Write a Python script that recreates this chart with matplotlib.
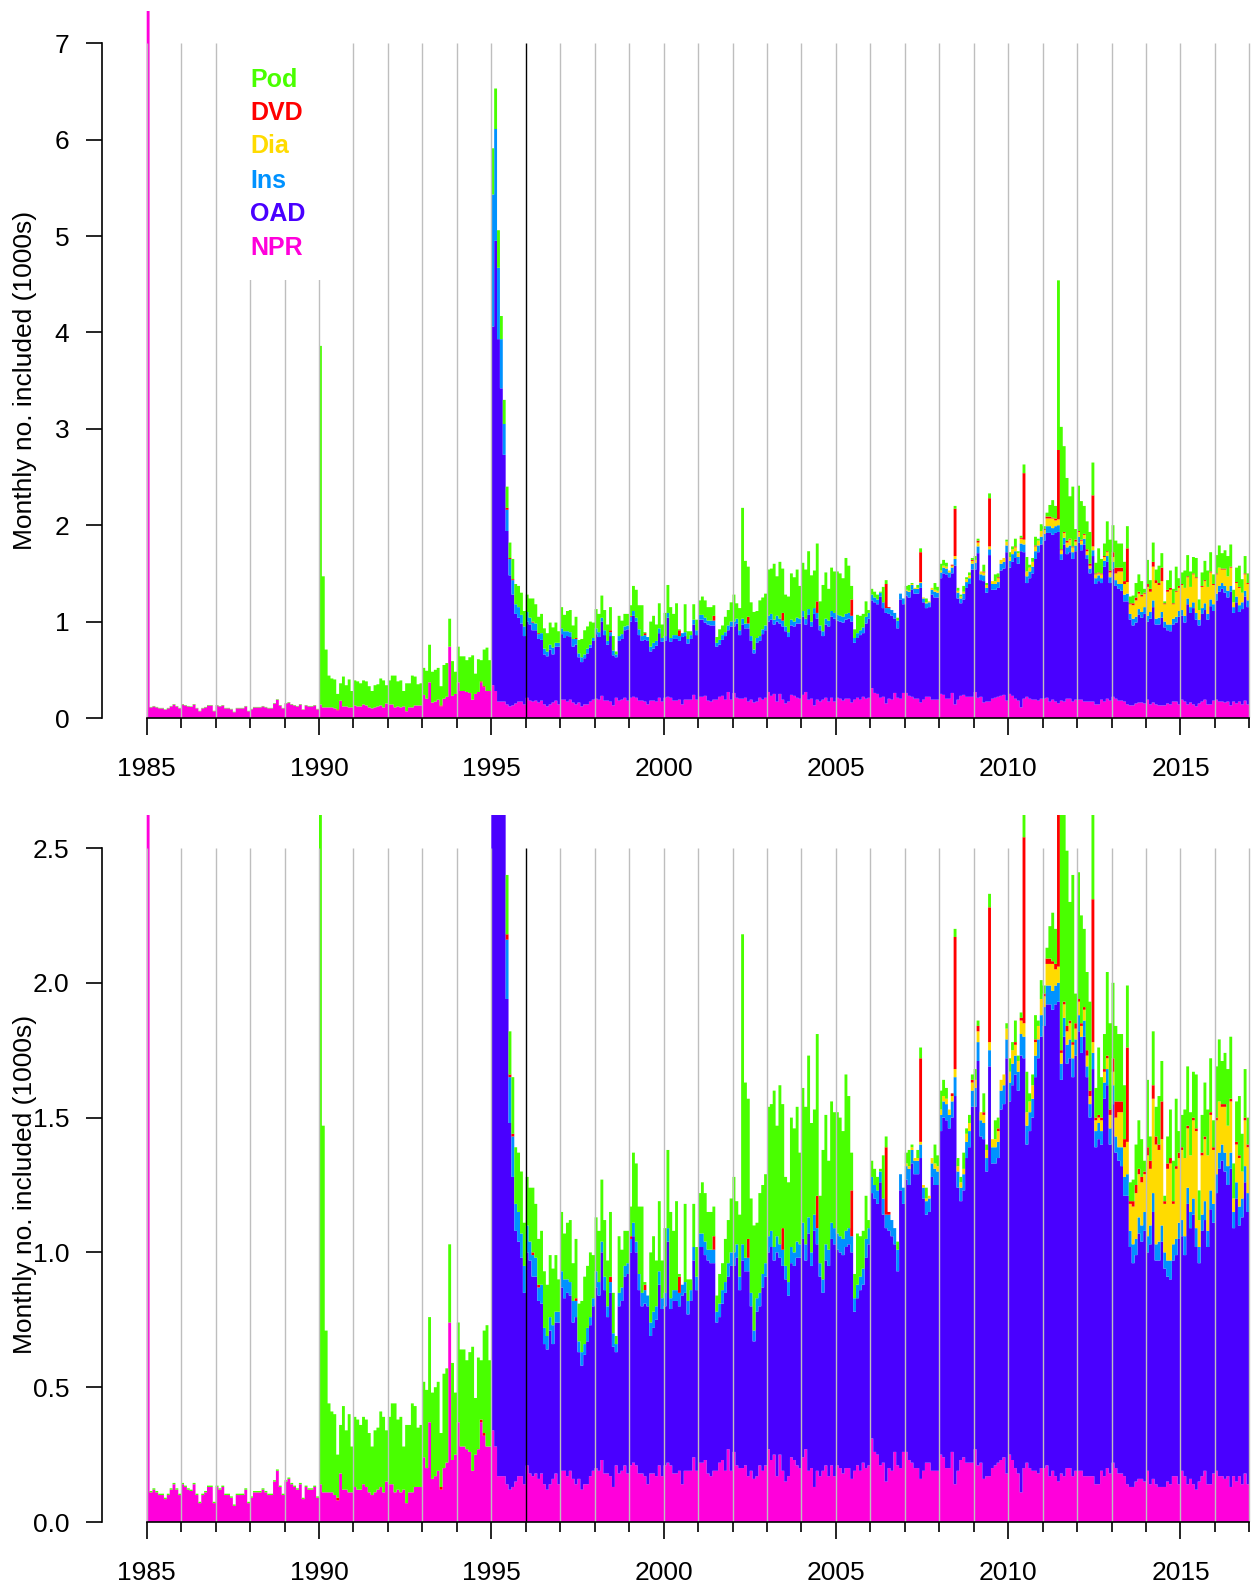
import numpy as np
import matplotlib.pyplot as plt
from matplotlib.patches import Rectangle

plt.rcParams['font.family'] = ['Liberation Sans', 'DejaVu Sans']

# Monthly numbers included (1000s), one row (Jan..Dec) per year 1985-2016
first_year = 1985

npr = [
    [9.0, 0.11, 0.12, 0.11, 0.10, 0.10, 0.085, 0.10, 0.12, 0.14, 0.12, 0.10],
    [0.14, 0.13, 0.12, 0.115, 0.14, 0.10, 0.07, 0.10, 0.11, 0.13, 0.13, 0.07],
    [0.13, 0.12, 0.13, 0.10, 0.10, 0.09, 0.06, 0.10, 0.10, 0.10, 0.12, 0.07],
    [0.09, 0.11, 0.11, 0.11, 0.12, 0.11, 0.10, 0.10, 0.15, 0.19, 0.13, 0.10],
    [0.15, 0.16, 0.14, 0.13, 0.12, 0.14, 0.085, 0.13, 0.12, 0.12, 0.13, 0.09],
    [0.14, 0.11, 0.11, 0.11, 0.11, 0.10, 0.08, 0.18, 0.12, 0.12, 0.11, 0.11],
    [0.13, 0.12, 0.12, 0.14, 0.13, 0.11, 0.10, 0.11, 0.12, 0.13, 0.11, 0.15],
    [0.14, 0.14, 0.11, 0.12, 0.11, 0.12, 0.07, 0.11, 0.11, 0.13, 0.13, 0.13],
    [0.24, 0.20, 0.37, 0.16, 0.17, 0.19, 0.12, 0.20, 0.22, 0.74, 0.23, 0.25],
    [0.37, 0.28, 0.28, 0.27, 0.26, 0.19, 0.25, 0.27, 0.37, 0.32, 0.28, 0.28],
    [0.34, 0.28, 0.17, 0.17, 0.17, 0.14, 0.12, 0.13, 0.15, 0.17, 0.17, 0.14],
    [0.21, 0.18, 0.17, 0.18, 0.16, 0.18, 0.14, 0.12, 0.14, 0.16, 0.18, 0.14],
    [0.19, 0.19, 0.17, 0.19, 0.16, 0.14, 0.16, 0.12, 0.14, 0.14, 0.17, 0.19],
    [0.20, 0.19, 0.23, 0.18, 0.18, 0.17, 0.13, 0.21, 0.18, 0.19, 0.21, 0.18],
    [0.21, 0.22, 0.21, 0.18, 0.18, 0.17, 0.14, 0.18, 0.18, 0.17, 0.21, 0.17],
    [0.21, 0.22, 0.21, 0.18, 0.18, 0.19, 0.14, 0.19, 0.19, 0.19, 0.24, 0.19],
    [0.22, 0.22, 0.23, 0.18, 0.17, 0.19, 0.19, 0.22, 0.23, 0.19, 0.27, 0.19],
    [0.26, 0.21, 0.20, 0.20, 0.21, 0.17, 0.19, 0.16, 0.17, 0.21, 0.19, 0.21],
    [0.27, 0.23, 0.25, 0.17, 0.25, 0.19, 0.15, 0.17, 0.24, 0.23, 0.21, 0.20],
    [0.24, 0.27, 0.19, 0.20, 0.13, 0.19, 0.17, 0.19, 0.21, 0.17, 0.21, 0.17],
    [0.21, 0.20, 0.18, 0.20, 0.20, 0.16, 0.19, 0.21, 0.19, 0.22, 0.20, 0.21],
    [0.31, 0.26, 0.25, 0.21, 0.22, 0.15, 0.20, 0.19, 0.26, 0.21, 0.20, 0.26],
    [0.26, 0.23, 0.22, 0.20, 0.20, 0.16, 0.19, 0.22, 0.22, 0.19, 0.19, 0.19],
    [0.25, 0.24, 0.20, 0.20, 0.26, 0.14, 0.19, 0.23, 0.24, 0.22, 0.22, 0.22],
    [0.27, 0.21, 0.22, 0.16, 0.17, 0.17, 0.20, 0.21, 0.22, 0.23, 0.24, 0.18],
    [0.25, 0.23, 0.20, 0.18, 0.11, 0.20, 0.22, 0.20, 0.19, 0.19, 0.18, 0.20],
    [0.20, 0.21, 0.17, 0.19, 0.17, 0.15, 0.18, 0.17, 0.20, 0.20, 0.17, 0.19],
    [0.19, 0.19, 0.17, 0.17, 0.17, 0.17, 0.14, 0.14, 0.19, 0.17, 0.20, 0.18],
    [0.22, 0.20, 0.18, 0.18, 0.17, 0.14, 0.13, 0.13, 0.15, 0.16, 0.16, 0.15],
    [0.19, 0.14, 0.16, 0.14, 0.13, 0.13, 0.13, 0.15, 0.14, 0.17, 0.17, 0.14],
    [0.19, 0.17, 0.14, 0.16, 0.14, 0.12, 0.15, 0.17, 0.19, 0.14, 0.14, 0.18],
    [0.19, 0.17, 0.17, 0.16, 0.17, 0.13, 0.17, 0.15, 0.17, 0.14, 0.18, 0.14],
]

# level reached by NPR + OAD (OAD starts in 1995)
oad_top = [[0] * 12] * 10 + [
    [4.06, 4.95, 3.93, 3.42, 2.73, 1.94, 1.48, 1.28, 1.08, 1.04, 0.98, 0.85],
    [1.00, 0.97, 0.91, 0.91, 0.82, 0.81, 0.66, 0.64, 0.71, 0.66, 0.74, 0.74],
    [0.87, 0.83, 0.85, 0.84, 0.74, 0.76, 0.63, 0.58, 0.62, 0.67, 0.73, 0.80],
    [0.87, 0.84, 1.00, 0.86, 0.76, 0.85, 0.65, 0.63, 0.80, 0.82, 0.91, 0.92],
    [1.00, 1.06, 1.00, 0.86, 0.80, 0.81, 0.80, 0.69, 0.72, 0.75, 0.88, 0.79],
    [0.80, 1.04, 0.79, 0.82, 0.82, 0.80, 0.84, 0.85, 0.77, 0.82, 0.97, 0.86],
    [1.02, 1.02, 0.99, 0.97, 0.96, 0.96, 0.74, 0.76, 0.81, 0.85, 0.91, 0.95],
    [0.95, 0.98, 0.86, 0.97, 0.93, 0.93, 0.80, 0.67, 0.78, 0.80, 0.87, 0.91],
    [1.00, 1.02, 0.97, 1.00, 0.98, 0.95, 0.90, 0.84, 0.96, 0.95, 0.98, 0.98],
    [1.05, 0.97, 1.07, 0.95, 1.08, 1.03, 0.91, 0.85, 0.97, 0.95, 1.05, 1.03],
    [1.01, 1.00, 0.99, 1.02, 1.03, 1.00, 0.78, 0.83, 0.86, 0.88, 0.98, 1.03],
    [1.22, 1.20, 1.18, 1.26, 1.14, 1.09, 1.08, 1.06, 1.03, 0.93, 1.23, 1.18],
    [1.27, 1.25, 1.33, 1.29, 1.29, 1.35, 1.20, 1.14, 1.15, 1.28, 1.25, 1.25],
    [1.45, 1.50, 1.49, 1.46, 1.50, 1.58, 1.24, 1.19, 1.23, 1.35, 1.39, 1.54],
    [1.54, 1.71, 1.43, 1.42, 1.30, 1.69, 1.33, 1.33, 1.35, 1.53, 1.55, 1.72],
    [1.56, 1.62, 1.66, 1.60, 1.73, 1.72, 1.40, 1.45, 1.50, 1.65, 1.72, 1.80],
    [1.84, 1.92, 1.92, 1.90, 1.92, 1.93, 1.64, 1.80, 1.70, 1.72, 1.65, 1.73],
    [1.82, 1.74, 1.80, 1.65, 1.50, 1.68, 1.39, 1.42, 1.40, 1.57, 1.62, 1.40],
    [1.55, 1.37, 1.34, 1.32, 1.21, 1.21, 1.02, 0.96, 0.99, 1.07, 1.04, 1.08],
    [1.00, 1.03, 1.15, 0.97, 0.97, 1.04, 0.94, 0.91, 0.90, 0.97, 0.99, 1.05],
    [1.06, 0.99, 1.18, 1.09, 1.14, 1.02, 0.96, 1.08, 1.12, 1.02, 1.16, 1.11],
    [1.22, 1.31, 1.34, 1.30, 1.25, 1.31, 1.09, 1.20, 1.10, 1.13, 1.26, 1.15],
]

ins = [[0] * 12] * 10 + [
    [1.37, 1.16, 0.74, 0.51, 0.32, 0.22, 0.17, 0.15, 0.10, 0.11, 0.09, 0.10],
    [0.10, 0.07, 0.08, 0.07, 0.05, 0.07, 0.06, 0.05, 0.05, 0.07, 0.04, 0.04],
    [0.06, 0.07, 0.05, 0.05, 0.08, 0.06, 0.04, 0.05, 0.04, 0.05, 0.03, 0.03],
    [0.06, 0.05, 0.04, 0.05, 0.04, 0.04, 0.05, 0.03, 0.05, 0.05, 0.04, 0.04],
    [0.05, 0.05, 0.04, 0.06, 0.05, 0.05, 0.04, 0.05, 0.06, 0.05, 0.05, 0.04],
    [0.05, 0.05, 0.04, 0.04, 0.04, 0.05, 0.04, 0.04, 0.05, 0.04, 0.05, 0.05],
    [0.05, 0.05, 0.05, 0.04, 0.05, 0.05, 0.04, 0.05, 0.05, 0.04, 0.05, 0.05],
    [0.05, 0.05, 0.05, 0.06, 0.05, 0.05, 0.05, 0.04, 0.05, 0.05, 0.05, 0.05],
    [0.06, 0.06, 0.05, 0.06, 0.05, 0.06, 0.05, 0.05, 0.06, 0.05, 0.06, 0.05],
    [0.06, 0.06, 0.06, 0.05, 0.06, 0.06, 0.05, 0.05, 0.06, 0.06, 0.06, 0.06],
    [0.06, 0.06, 0.06, 0.06, 0.06, 0.06, 0.05, 0.05, 0.05, 0.06, 0.07, 0.06],
    [0.06, 0.05, 0.05, 0.04, 0.06, 0.05, 0.06, 0.06, 0.06, 0.08, 0.06, 0.06],
    [0.05, 0.06, 0.05, 0.05, 0.05, 0.05, 0.04, 0.05, 0.05, 0.05, 0.06, 0.05],
    [0.06, 0.06, 0.06, 0.05, 0.06, 0.07, 0.06, 0.05, 0.06, 0.06, 0.06, 0.06],
    [0.07, 0.07, 0.06, 0.06, 0.05, 0.06, 0.06, 0.06, 0.06, 0.07, 0.07, 0.07],
    [0.07, 0.08, 0.07, 0.07, 0.08, 0.08, 0.07, 0.07, 0.07, 0.08, 0.07, 0.08],
    [0.07, 0.07, 0.07, 0.07, 0.07, 0.07, 0.06, 0.07, 0.07, 0.07, 0.07, 0.06],
    [0.06, 0.06, 0.06, 0.04, 0.05, 0.06, 0.06, 0.06, 0.05, 0.06, 0.06, 0.06],
    [0.07, 0.06, 0.05, 0.07, 0.07, 0.08, 0.06, 0.07, 0.06, 0.06, 0.06, 0.07],
    [0.06, 0.07, 0.07, 0.06, 0.07, 0.06, 0.06, 0.06, 0.07, 0.06, 0.06, 0.06],
    [0.06, 0.07, 0.06, 0.06, 0.06, 0.07, 0.06, 0.06, 0.07, 0.06, 0.07, 0.07],
    [0.07, 0.06, 0.06, 0.07, 0.07, 0.06, 0.06, 0.06, 0.07, 0.07, 0.06, 0.07],
]

dia = [[0] * 12] * 22 + [
    [0.01, 0.01, 0.01, 0.01, 0.01, 0.01, 0.01, 0.01, 0.01, 0.02, 0.02, 0.02],
    [0.02, 0.02, 0.02, 0.02, 0.02, 0.03, 0.02, 0.02, 0.02, 0.03, 0.03, 0.03],
    [0.03, 0.04, 0.03, 0.03, 0.03, 0.03, 0.03, 0.03, 0.04, 0.04, 0.04, 0.04],
    [0.04, 0.05, 0.04, 0.04, 0.05, 0.05, 0.05, 0.04, 0.05, 0.05, 0.05, 0.06],
    [0.04, 0.08, 0.08, 0.10, 0.06, 0.06, 0.04, 0.05, 0.05, 0.06, 0.05, 0.04],
    [0.05, 0.04, 0.04, 0.04, 0.03, 0.04, 0.04, 0.02, 0.04, 0.04, 0.04, 0.05],
    [0.05, 0.07, 0.13, 0.13, 0.11, 0.12, 0.10, 0.14, 0.17, 0.16, 0.16, 0.14],
    [0.30, 0.21, 0.35, 0.37, 0.34, 0.32, 0.18, 0.34, 0.36, 0.15, 0.26, 0.24],
    [0.26, 0.29, 0.22, 0.21, 0.29, 0.36, 0.10, 0.22, 0.23, 0.28, 0.28, 0.20],
    [0.20, 0.19, 0.14, 0.17, 0.15, 0.19, 0.05, 0.14, 0.18, 0.10, 0.17, 0.17],
]

dvd = [[0] * 12] * 5 + [
    [0, 0, 0, 0, 0, 0, 0.01, 0, 0, 0, 0, 0],
    [0, 0, 0, 0, 0, 0, 0, 0, 0, 0, 0, 0],
    [0, 0, 0, 0, 0, 0, 0, 0, 0, 0, 0, 0],
    [0, 0, 0, 0, 0, 0, 0.01, 0, 0, 0, 0, 0],
    [0, 0, 0, 0, 0, 0, 0, 0, 0.01, 0.01, 0, 0],
    [0, 0, 0, 0, 0, 0.02, 0.01, 0.01, 0, 0, 0, 0],
    [0, 0, 0.01, 0, 0.01, 0, 0, 0, 0, 0, 0, 0],
    [0, 0, 0, 0, 0, 0.01, 0, 0, 0, 0, 0, 0],
    [0, 0, 0, 0, 0, 0.02, 0, 0, 0, 0, 0, 0],
    [0.01, 0, 0, 0, 0, 0.02, 0, 0, 0, 0, 0, 0],
    [0, 0, 0, 0, 0, 0.06, 0, 0, 0, 0, 0, 0],
    [0, 0, 0, 0, 0, 0.05, 0, 0, 0, 0, 0, 0],
    [0, 0, 0, 0, 0, 0.07, 0, 0, 0, 0, 0, 0],
    [0, 0, 0, 0, 0, 0.08, 0, 0, 0, 0, 0, 0],
    [0, 0, 0, 0, 0, 0.12, 0, 0, 0, 0, 0, 0],
    [0, 0, 0, 0, 0, 0.17, 0, 0, 0, 0, 0, 0],
    [0, 0, 0, 0, 0, 0.25, 0.01, 0, 0, 0, 0, 0],
    [0, 0, 0, 0, 0, 0.31, 0, 0, 0, 0, 0, 0],
    [0, 0, 0, 0, 0.01, 0.49, 0, 0, 0, 0, 0, 0.01],
    [0, 0.02, 0, 0.01, 0, 0.50, 0, 0, 0.01, 0, 0, 0],
    [0, 0, 0.01, 0, 0.01, 0.69, 0, 0, 0, 0.01, 0, 0],
    [0.01, 0.02, 0.02, 0.01, 0.02, 0.72, 0.01, 0.01, 0.02, 0.01, 0.01, 0.02],
    [0.01, 0.01, 0.01, 0.02, 0.02, 0.53, 0.01, 0.01, 0.01, 0.01, 0.01, 0.02],
    [0.05, 0.06, 0.04, 0.04, 0.03, 0.35, 0.01, 0.02, 0.03, 0.02, 0.02, 0.01],
    [0.03, 0.03, 0.05, 0.03, 0.02, 0.14, 0.01, 0.02, 0.02, 0.01, 0.01, 0.02],
    [0.01, 0, 0.01, 0, 0.01, 0.01, 0, 0.01, 0.01, 0, 0.01, 0.01],
    [0.01, 0, 0.01, 0.01, 0, 0.01, 0, 0.01, 0.01, 0, 0.01, 0.01],
]

# full bar height per month (Pod sits on top of everything else)
total = [
    [9.0, 0.115, 0.125, 0.115, 0.105, 0.105, 0.09, 0.105, 0.125, 0.145, 0.125, 0.105],
    [0.145, 0.135, 0.125, 0.12, 0.145, 0.105, 0.075, 0.105, 0.115, 0.135, 0.135, 0.075],
    [0.135, 0.125, 0.135, 0.105, 0.105, 0.095, 0.065, 0.105, 0.105, 0.105, 0.125, 0.075],
    [0.095, 0.115, 0.115, 0.115, 0.125, 0.115, 0.105, 0.105, 0.155, 0.195, 0.135, 0.105],
    [0.155, 0.165, 0.145, 0.135, 0.125, 0.145, 0.09, 0.135, 0.125, 0.125, 0.135, 0.095],
    [3.86, 1.47, 0.71, 0.44, 0.41, 0.40, 0.25, 0.36, 0.43, 0.34, 0.40, 0.28],
    [0.39, 0.38, 0.36, 0.39, 0.38, 0.33, 0.28, 0.34, 0.35, 0.41, 0.39, 0.34],
    [0.39, 0.44, 0.44, 0.38, 0.39, 0.28, 0.36, 0.36, 0.44, 0.43, 0.35, 0.36],
    [0.52, 0.49, 0.76, 0.48, 0.50, 0.52, 0.33, 0.55, 0.57, 1.03, 0.59, 0.48],
    [0.74, 0.64, 0.64, 0.60, 0.63, 0.65, 0.46, 0.61, 0.60, 0.71, 0.73, 0.60],
    [5.91, 6.53, 5.06, 4.17, 3.30, 2.40, 1.82, 1.65, 1.39, 1.37, 1.30, 1.11],
    [1.28, 1.24, 1.24, 1.18, 1.05, 1.08, 0.93, 0.88, 0.99, 0.94, 0.99, 0.90],
    [1.15, 1.07, 1.11, 1.12, 0.96, 1.05, 0.81, 0.82, 0.91, 0.95, 1.00, 0.99],
    [1.13, 1.08, 1.27, 1.12, 0.97, 1.15, 0.85, 0.69, 1.06, 1.01, 1.08, 1.08],
    [1.17, 1.37, 1.33, 1.17, 1.17, 0.89, 0.82, 1.00, 1.06, 0.97, 1.19, 0.97],
    [1.09, 1.38, 1.15, 1.08, 1.19, 0.92, 0.87, 1.18, 0.90, 0.90, 1.18, 1.02],
    [1.22, 1.26, 1.22, 1.15, 1.15, 1.17, 0.84, 0.92, 0.96, 1.05, 1.12, 1.20],
    [1.28, 1.19, 1.14, 2.18, 1.63, 1.57, 1.20, 1.10, 1.11, 1.22, 1.25, 1.29],
    [1.54, 1.55, 1.60, 1.47, 1.62, 1.55, 1.28, 1.26, 1.50, 1.46, 1.54, 1.37],
    [1.61, 1.54, 1.73, 1.48, 1.53, 1.81, 1.21, 1.38, 1.51, 1.34, 1.56, 1.52],
    [1.52, 1.50, 1.45, 1.66, 1.58, 1.37, 0.92, 1.07, 1.06, 1.08, 1.21, 1.12],
    [1.34, 1.31, 1.28, 1.31, 1.36, 1.43, 1.15, 1.11, 1.08, 1.04, 1.28, 1.23],
    [1.37, 1.38, 1.40, 1.35, 1.38, 1.76, 1.25, 1.24, 1.21, 1.35, 1.40, 1.36],
    [1.60, 1.64, 1.61, 1.52, 1.56, 2.20, 1.35, 1.28, 1.37, 1.46, 1.51, 1.66],
    [1.68, 1.86, 1.52, 1.59, 1.40, 2.33, 1.37, 1.49, 1.50, 1.62, 1.66, 1.85],
    [1.72, 1.78, 1.86, 1.73, 1.89, 2.63, 1.67, 1.59, 1.66, 1.88, 1.86, 2.01],
    [1.99, 2.13, 2.21, 2.26, 2.20, 4.54, 3.02, 2.82, 2.49, 2.30, 2.40, 1.96],
    [2.41, 2.25, 2.20, 2.04, 1.93, 2.65, 1.61, 1.76, 1.65, 1.81, 2.04, 1.85],
    [2.00, 1.84, 1.81, 1.81, 1.62, 1.99, 1.26, 1.27, 1.40, 1.49, 1.42, 1.34],
    [1.64, 1.43, 1.82, 1.54, 1.58, 1.71, 1.21, 1.43, 1.53, 1.34, 1.57, 1.45],
    [1.51, 1.53, 1.69, 1.52, 1.67, 1.66, 1.23, 1.51, 1.63, 1.53, 1.72, 1.49],
    [1.69, 1.79, 1.71, 1.74, 1.68, 1.80, 1.33, 1.56, 1.58, 1.44, 1.68, 1.50],
]

npr = np.array(npr, dtype=float).ravel()
oad_top = np.array(oad_top, dtype=float).ravel()
ins = np.array(ins, dtype=float).ravel()
dia = np.array(dia, dtype=float).ravel()
dvd = np.array(dvd, dtype=float).ravel()
total = np.array(total, dtype=float).ravel()

oad = np.clip(oad_top - npr, 0, None)
pod = np.clip(total - npr - oad - ins - dia - dvd, 0, None)

n_months = len(npr)
edges = first_year + np.arange(n_months + 1) / 12.0
last_year = first_year + n_months // 12

# stacking order bottom -> top (R rainbow(7) colours)
layers = [
    ("NPR", npr, "#FF00DB"),
    ("OAD", oad, "#4900FF"),
    ("Ins", ins, "#0092FF"),
    ("Dia", dia, "#FFDB00"),
    ("DVD", dvd, "#FF0000"),
    ("Pod", pod, "#49FF00"),
]

W, H = 1256, 1585
fig = plt.figure(figsize=(W / 100, H / 100), dpi=100)

x_left = 1985 - 44.7 / 34.46
x_right = 1985 + 1107.3 / 34.46
ax_left = 102 / W
ax_width = (1254 - 102) / W


def draw_panel(ax, ytop, ymax, yticks, ylabels):
    bottom = np.zeros(n_months)
    for name, vals, col in layers:
        ax.stairs(bottom + vals, edges, baseline=bottom, fill=True,
                  color=col, lw=0, zorder=2)
        bottom = bottom + vals

    years = np.arange(first_year, last_year + 1)
    grey = years[years != 1996]
    ax.vlines(grey, 0, ytop, colors="#BEBEBE", lw=1.0, zorder=3)
    ax.vlines([1996], 0, ytop, colors="black", lw=1.0, zorder=3)

    ax.set_xlim(x_left, x_right)
    ax.set_ylim(0, ymax)
    for s in ["top", "right"]:
        ax.spines[s].set_visible(False)
    ax.spines["left"].set_bounds(0, ytop)
    ax.spines["bottom"].set_bounds(first_year, last_year)
    ax.spines["left"].set_linewidth(1.2)
    ax.spines["bottom"].set_linewidth(1.2)
    ax.spines["left"].set_zorder(4)
    ax.spines["bottom"].set_zorder(4)

    ax.set_xticks(np.arange(1985, 2016, 5))
    ax.set_xticks(years, minor=True)
    ax.tick_params(axis="x", which="major", length=12.2, width=1.2, pad=15.8,
                   labelsize=19)
    ax.tick_params(axis="x", which="minor", length=7.2, width=1.2)
    ax.set_yticks(yticks)
    ax.set_yticklabels(ylabels)
    ax.tick_params(axis="y", length=11.5, width=1.2, pad=12, labelsize=19)


# upper panel: full range
ax1 = fig.add_axes([ax_left, (H - 718) / H, ax_width, 707 / H])
draw_panel(ax1, 7, 707 / 96.4, range(0, 8), [str(i) for i in range(0, 8)])

# legend block with white background over the grid lines
ax1.add_patch(Rectangle((1987.07, 4.54), 3.86, 3.0, fc="white", ec="none",
                        zorder=4))
leg_y = [6.549, 6.203, 5.858, 5.501, 5.156, 4.803]
for (name, vals, col), yy in zip(layers[::-1], leg_y):
    ax1.text(1988.0, yy, name, color=col, fontsize=18, fontweight="bold",
             ha="left", va="baseline", zorder=5)

# lower panel: zoomed in
ax2 = fig.add_axes([ax_left, (H - 1522) / H, ax_width, 707 / H])
draw_panel(ax2, 2.5, 707 / 269.6, [0, 0.5, 1.0, 1.5, 2.0, 2.5],
           ["0.0", "0.5", "1.0", "1.5", "2.0", "2.5"])

ylab = "Monthly no. included (1000s)"
fig.text(25 / W, 1 - 380.6 / H, ylab, rotation=90, ha="center", va="center",
         fontsize=19)
fig.text(25 / W, 1 - 1184 / H, ylab, rotation=90, ha="center", va="center",
         fontsize=19)

fig.savefig("out.png", dpi=100)
